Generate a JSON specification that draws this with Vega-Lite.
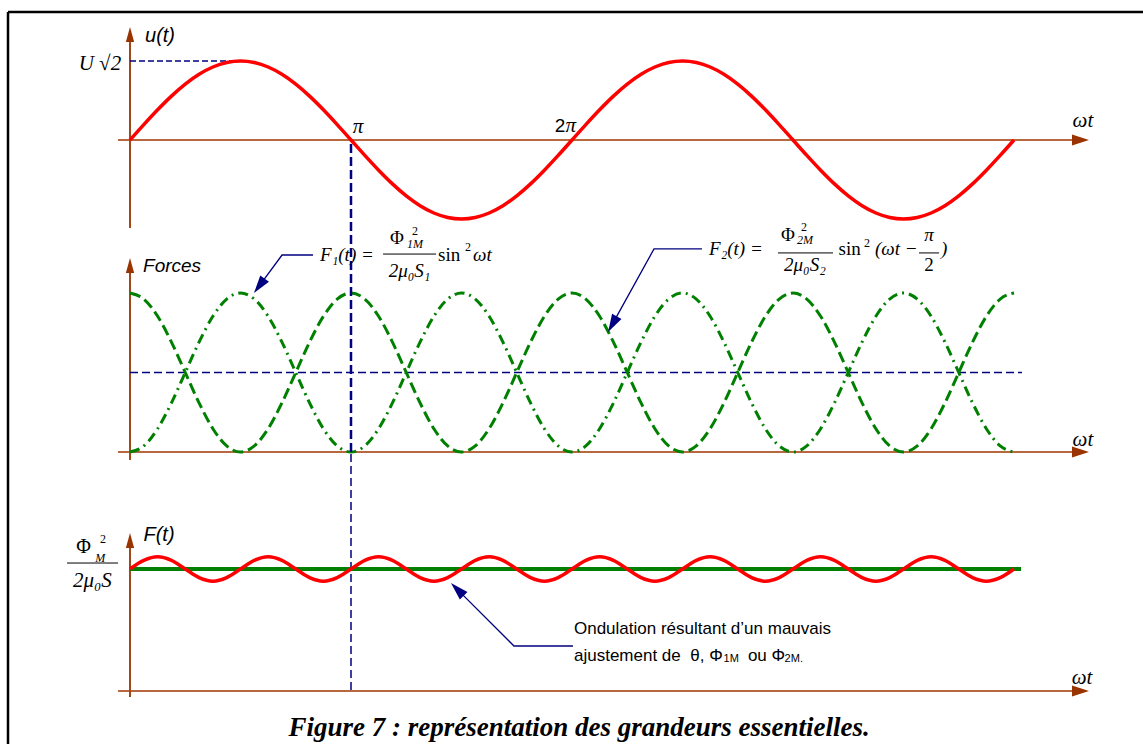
{
  "$schema": "https://vega.github.io/schema/vega-lite/v6.json",
  "width": 1143,
  "height": 744,
  "autosize": {"type": "none"},
  "padding": 0,
  "background": "white",
  "config": {"view": {"stroke": null}},
  "datasets": {
    "curves": [
      {"x":0,"u":0,"f1":0,"f2":1,"r":1},
      {"x":0.0625,"u":0.1951,"f1":0.0381,"f2":0.9619,"r":1.0707},
      {"x":0.125,"u":0.3827,"f1":0.1464,"f2":0.8536,"r":1.1},
      {"x":0.1875,"u":0.5556,"f1":0.3087,"f2":0.6913,"r":1.0707},
      {"x":0.25,"u":0.7071,"f1":0.5,"f2":0.5,"r":1},
      {"x":0.3125,"u":0.8315,"f1":0.6913,"f2":0.3087,"r":0.9293},
      {"x":0.375,"u":0.9239,"f1":0.8536,"f2":0.1464,"r":0.9},
      {"x":0.4375,"u":0.9808,"f1":0.9619,"f2":0.0381,"r":0.9293},
      {"x":0.5,"u":1,"f1":1,"f2":0,"r":1},
      {"x":0.5625,"u":0.9808,"f1":0.9619,"f2":0.0381,"r":1.0707},
      {"x":0.625,"u":0.9239,"f1":0.8536,"f2":0.1464,"r":1.1},
      {"x":0.6875,"u":0.8315,"f1":0.6913,"f2":0.3087,"r":1.0707},
      {"x":0.75,"u":0.7071,"f1":0.5,"f2":0.5,"r":1},
      {"x":0.8125,"u":0.5556,"f1":0.3087,"f2":0.6913,"r":0.9293},
      {"x":0.875,"u":0.3827,"f1":0.1464,"f2":0.8536,"r":0.9},
      {"x":0.9375,"u":0.1951,"f1":0.0381,"f2":0.9619,"r":0.9293},
      {"x":1,"u":0,"f1":0,"f2":1,"r":1},
      {"x":1.0625,"u":-0.1951,"f1":0.0381,"f2":0.9619,"r":1.0707},
      {"x":1.125,"u":-0.3827,"f1":0.1464,"f2":0.8536,"r":1.1},
      {"x":1.1875,"u":-0.5556,"f1":0.3087,"f2":0.6913,"r":1.0707},
      {"x":1.25,"u":-0.7071,"f1":0.5,"f2":0.5,"r":1},
      {"x":1.3125,"u":-0.8315,"f1":0.6913,"f2":0.3087,"r":0.9293},
      {"x":1.375,"u":-0.9239,"f1":0.8536,"f2":0.1464,"r":0.9},
      {"x":1.4375,"u":-0.9808,"f1":0.9619,"f2":0.0381,"r":0.9293},
      {"x":1.5,"u":-1,"f1":1,"f2":0,"r":1},
      {"x":1.5625,"u":-0.9808,"f1":0.9619,"f2":0.0381,"r":1.0707},
      {"x":1.625,"u":-0.9239,"f1":0.8536,"f2":0.1464,"r":1.1},
      {"x":1.6875,"u":-0.8315,"f1":0.6913,"f2":0.3087,"r":1.0707},
      {"x":1.75,"u":-0.7071,"f1":0.5,"f2":0.5,"r":1},
      {"x":1.8125,"u":-0.5556,"f1":0.3087,"f2":0.6913,"r":0.9293},
      {"x":1.875,"u":-0.3827,"f1":0.1464,"f2":0.8536,"r":0.9},
      {"x":1.9375,"u":-0.1951,"f1":0.0381,"f2":0.9619,"r":0.9293},
      {"x":2,"u":0,"f1":0,"f2":1,"r":1},
      {"x":2.0625,"u":0.1951,"f1":0.0381,"f2":0.9619,"r":1.0707},
      {"x":2.125,"u":0.3827,"f1":0.1464,"f2":0.8536,"r":1.1},
      {"x":2.1875,"u":0.5556,"f1":0.3087,"f2":0.6913,"r":1.0707},
      {"x":2.25,"u":0.7071,"f1":0.5,"f2":0.5,"r":1},
      {"x":2.3125,"u":0.8315,"f1":0.6913,"f2":0.3087,"r":0.9293},
      {"x":2.375,"u":0.9239,"f1":0.8536,"f2":0.1464,"r":0.9},
      {"x":2.4375,"u":0.9808,"f1":0.9619,"f2":0.0381,"r":0.9293},
      {"x":2.5,"u":1,"f1":1,"f2":0,"r":1},
      {"x":2.5625,"u":0.9808,"f1":0.9619,"f2":0.0381,"r":1.0707},
      {"x":2.625,"u":0.9239,"f1":0.8536,"f2":0.1464,"r":1.1},
      {"x":2.6875,"u":0.8315,"f1":0.6913,"f2":0.3087,"r":1.0707},
      {"x":2.75,"u":0.7071,"f1":0.5,"f2":0.5,"r":1},
      {"x":2.8125,"u":0.5556,"f1":0.3087,"f2":0.6913,"r":0.9293},
      {"x":2.875,"u":0.3827,"f1":0.1464,"f2":0.8536,"r":0.9},
      {"x":2.9375,"u":0.1951,"f1":0.0381,"f2":0.9619,"r":0.9293},
      {"x":3,"u":0,"f1":0,"f2":1,"r":1},
      {"x":3.0625,"u":-0.1951,"f1":0.0381,"f2":0.9619,"r":1.0707},
      {"x":3.125,"u":-0.3827,"f1":0.1464,"f2":0.8536,"r":1.1},
      {"x":3.1875,"u":-0.5556,"f1":0.3087,"f2":0.6913,"r":1.0707},
      {"x":3.25,"u":-0.7071,"f1":0.5,"f2":0.5,"r":1},
      {"x":3.3125,"u":-0.8315,"f1":0.6913,"f2":0.3087,"r":0.9293},
      {"x":3.375,"u":-0.9239,"f1":0.8536,"f2":0.1464,"r":0.9},
      {"x":3.4375,"u":-0.9808,"f1":0.9619,"f2":0.0381,"r":0.9293},
      {"x":3.5,"u":-1,"f1":1,"f2":0,"r":1},
      {"x":3.5625,"u":-0.9808,"f1":0.9619,"f2":0.0381,"r":1.0707},
      {"x":3.625,"u":-0.9239,"f1":0.8536,"f2":0.1464,"r":1.1},
      {"x":3.6875,"u":-0.8315,"f1":0.6913,"f2":0.3087,"r":1.0707},
      {"x":3.75,"u":-0.7071,"f1":0.5,"f2":0.5,"r":1},
      {"x":3.8125,"u":-0.5556,"f1":0.3087,"f2":0.6913,"r":0.9293},
      {"x":3.875,"u":-0.3827,"f1":0.1464,"f2":0.8536,"r":0.9},
      {"x":3.9375,"u":-0.1951,"f1":0.0381,"f2":0.9619,"r":0.9293},
      {"x":4,"u":0,"f1":0,"f2":1,"r":1}
    ]
  },
  "resolve": {"scale": {"y": "independent"}},
  "layer": [
    {
      "layer": [
        {
          "data": {"values": [{"x":-0.552,"x2":4.62,"y":1.62,"y2":1.62},{"x":-0.552,"x2":-0.552,"y":1.62,"y2":-7.7}]},
          "mark": {"type":"rule","color":"#000000","strokeWidth":2.5},
          "encoding": {
            "x": {"field":"x","type":"quantitative","scale":{"domain":[-0.58824,4.58371],"nice":false,"zero":false},"axis":null},
            "x2": {"field":"x2"},
            "y": {"field":"y","type":"quantitative","scale":{"domain":[-7.6456,1.7722],"nice":false,"zero":false},"axis":null},
            "y2": {"field":"y2"}
          }
        },
        {
          "data": {"values": [{"x":-0.0543,"x2":4.27,"y":0,"y2":0}]},
          "mark": {"type":"rule","color":"#B8683F","strokeWidth":2},
          "encoding": {
            "x": {"field":"x","type":"quantitative","scale":{"domain":[-0.58824,4.58371],"nice":false,"zero":false},"axis":null},
            "x2": {"field":"x2"},
            "y": {"field":"y","type":"quantitative","scale":{"domain":[-7.6456,1.7722],"nice":false,"zero":false},"axis":null},
            "y2": {"field":"y2"}
          }
        },
        {
          "data": {"values": [{"x":0,"x2":0,"y":-1.114,"y2":1.24}]},
          "mark": {"type":"rule","color":"#A0481A","strokeWidth":2},
          "encoding": {
            "x": {"field":"x","type":"quantitative","scale":{"domain":[-0.58824,4.58371],"nice":false,"zero":false},"axis":null},
            "x2": {"field":"x2"},
            "y": {"field":"y","type":"quantitative","scale":{"domain":[-7.6456,1.7722],"nice":false,"zero":false},"axis":null},
            "y2": {"field":"y2"}
          }
        },
        {
          "data": {"values": [{"x":0,"x2":0.5,"y":1,"y2":1}]},
          "mark": {"type":"rule","color":"#000080","strokeWidth":1.5,"strokeDash":[6,3]},
          "encoding": {
            "x": {"field":"x","type":"quantitative","scale":{"domain":[-0.58824,4.58371],"nice":false,"zero":false},"axis":null},
            "x2": {"field":"x2"},
            "y": {"field":"y","type":"quantitative","scale":{"domain":[-7.6456,1.7722],"nice":false,"zero":false},"axis":null},
            "y2": {"field":"y2"}
          }
        },
        {
          "data": {"name": "curves"},
          "mark": {"type":"line","color":"#FF0000","strokeWidth":3.5,"interpolate":"monotone"},
          "encoding": {
            "x": {"field":"x","type":"quantitative","scale":{"domain":[-0.58824,4.58371],"nice":false,"zero":false},"axis":null},
            "y": {"field":"u","type":"quantitative","scale":{"domain":[-7.6456,1.7722],"nice":false,"zero":false},"axis":null}
          }
        },
        {
          "data": {"values": [{"x":4.3009,"y":0}]},
          "mark": {"type":"point","shape":"M -1 -0.65 L 1 0 L -1 0.65 Z","size":289,"filled":true,"color":"#993300","opacity":1,"strokeWidth":0},
          "encoding": {
            "x": {"field":"x","type":"quantitative","scale":{"domain":[-0.58824,4.58371],"nice":false,"zero":false},"axis":null},
            "y": {"field":"y","type":"quantitative","scale":{"domain":[-7.6456,1.7722],"nice":false,"zero":false},"axis":null}
          }
        },
        {
          "data": {"values": [{"x":0,"y":1.335}]},
          "mark": {"type":"point","shape":"M -0.55 1 L 0 -1 L 0.55 1 Z","size":225,"filled":true,"color":"#993300","opacity":1,"strokeWidth":0},
          "encoding": {
            "x": {"field":"x","type":"quantitative","scale":{"domain":[-0.58824,4.58371],"nice":false,"zero":false},"axis":null},
            "y": {"field":"y","type":"quantitative","scale":{"domain":[-7.6456,1.7722],"nice":false,"zero":false},"axis":null}
          }
        },
        {
          "data": {"values": [{"x":0.068,"y":1.316,"t":"u(t)"}]},
          "mark": {"type":"text","font":"Liberation Sans","fontStyle":"italic","fontSize":20,"align":"left","baseline":"middle","color":"#000000"},
          "encoding": {
            "x": {"field":"x","type":"quantitative","scale":{"domain":[-0.58824,4.58371],"nice":false,"zero":false},"axis":null},
            "y": {"field":"y","type":"quantitative","scale":{"domain":[-7.6456,1.7722],"nice":false,"zero":false},"axis":null},
            "text": {"field":"t"}
          }
        },
        {
          "data": {"values": [{"x":-0.040,"y":0.962,"t":"U √2"}]},
          "mark": {"type":"text","font":"Liberation Serif","fontStyle":"italic","fontSize":21,"align":"right","baseline":"middle","color":"#000000"},
          "encoding": {
            "x": {"field":"x","type":"quantitative","scale":{"domain":[-0.58824,4.58371],"nice":false,"zero":false},"axis":null},
            "y": {"field":"y","type":"quantitative","scale":{"domain":[-7.6456,1.7722],"nice":false,"zero":false},"axis":null},
            "text": {"field":"t"}
          }
        },
        {
          "data": {"values": [{"x":1.032,"y":0.165,"t":"π"},{"x":1.994,"y":0.177,"t":"π"},{"x":4.312,"y":0.241,"t":"ωt"}]},
          "mark": {"type":"text","font":"Liberation Serif","fontStyle":"italic","fontSize":21,"align":"center","baseline":"middle","color":"#000000"},
          "encoding": {
            "x": {"field":"x","type":"quantitative","scale":{"domain":[-0.58824,4.58371],"nice":false,"zero":false},"axis":null},
            "y": {"field":"y","type":"quantitative","scale":{"domain":[-7.6456,1.7722],"nice":false,"zero":false},"axis":null},
            "text": {"field":"t"}
          }
        },
        {
          "data": {"values": [{"x":1.946,"y":0.177,"t":"2"}]},
          "mark": {"type":"text","font":"Liberation Sans","fontSize":19,"align":"center","baseline":"middle","color":"#000000"},
          "encoding": {
            "x": {"field":"x","type":"quantitative","scale":{"domain":[-0.58824,4.58371],"nice":false,"zero":false},"axis":null},
            "y": {"field":"y","type":"quantitative","scale":{"domain":[-7.6456,1.7722],"nice":false,"zero":false},"axis":null},
            "text": {"field":"t"}
          }
        }
      ]
    },
    {
      "layer": [
        {
          "data": {"values": [{"x":-0.0543,"x2":4.27,"y":0,"y2":0}]},
          "mark": {"type":"rule","color":"#B8683F","strokeWidth":2},
          "encoding": {
            "x": {"field":"x","type":"quantitative","scale":{"domain":[-0.58824,4.58371],"nice":false,"zero":false},"axis":null},
            "x2": {"field":"x2"},
            "y": {"field":"y","type":"quantitative","scale":{"domain":[-1.8365,2.8428],"nice":false,"zero":false},"axis":null},
            "y2": {"field":"y2"}
          }
        },
        {
          "data": {"values": [{"x":0,"x2":0,"y":-0.05,"y2":1.126}]},
          "mark": {"type":"rule","color":"#A0481A","strokeWidth":2},
          "encoding": {
            "x": {"field":"x","type":"quantitative","scale":{"domain":[-0.58824,4.58371],"nice":false,"zero":false},"axis":null},
            "x2": {"field":"x2"},
            "y": {"field":"y","type":"quantitative","scale":{"domain":[-1.8365,2.8428],"nice":false,"zero":false},"axis":null},
            "y2": {"field":"y2"}
          }
        },
        {
          "data": {"values": [{"x":0,"x2":4.036,"y":0.5,"y2":0.5}]},
          "mark": {"type":"rule","color":"#000080","strokeWidth":1.5,"strokeDash":[8,4]},
          "encoding": {
            "x": {"field":"x","type":"quantitative","scale":{"domain":[-0.58824,4.58371],"nice":false,"zero":false},"axis":null},
            "x2": {"field":"x2"},
            "y": {"field":"y","type":"quantitative","scale":{"domain":[-1.8365,2.8428],"nice":false,"zero":false},"axis":null},
            "y2": {"field":"y2"}
          }
        },
        {
          "data": {"name": "curves"},
          "mark": {"type":"line","color":"#008000","strokeWidth":3,"interpolate":"monotone","strokeDash":[10,5,2,5]},
          "encoding": {
            "x": {"field":"x","type":"quantitative","scale":{"domain":[-0.58824,4.58371],"nice":false,"zero":false},"axis":null},
            "y": {"field":"f1","type":"quantitative","scale":{"domain":[-1.8365,2.8428],"nice":false,"zero":false},"axis":null}
          }
        },
        {
          "data": {"name": "curves"},
          "mark": {"type":"line","color":"#008000","strokeWidth":3,"interpolate":"monotone","strokeDash":[11,5]},
          "encoding": {
            "x": {"field":"x","type":"quantitative","scale":{"domain":[-0.58824,4.58371],"nice":false,"zero":false},"axis":null},
            "y": {"field":"f2","type":"quantitative","scale":{"domain":[-1.8365,2.8428],"nice":false,"zero":false},"axis":null}
          }
        },
        {
          "data": {"values": [{"x":1,"x2":1,"y":0,"y2":1.962}]},
          "mark": {"type":"rule","color":"#000080","strokeWidth":2.5,"strokeDash":[9,4]},
          "encoding": {
            "x": {"field":"x","type":"quantitative","scale":{"domain":[-0.58824,4.58371],"nice":false,"zero":false},"axis":null},
            "x2": {"field":"x2"},
            "y": {"field":"y","type":"quantitative","scale":{"domain":[-1.8365,2.8428],"nice":false,"zero":false},"axis":null},
            "y2": {"field":"y2"}
          }
        },
        {
          "data": {"values": [{"x":4.3009,"y":0}]},
          "mark": {"type":"point","shape":"M -1 -0.65 L 1 0 L -1 0.65 Z","size":289,"filled":true,"color":"#993300","opacity":1,"strokeWidth":0},
          "encoding": {
            "x": {"field":"x","type":"quantitative","scale":{"domain":[-0.58824,4.58371],"nice":false,"zero":false},"axis":null},
            "y": {"field":"y","type":"quantitative","scale":{"domain":[-1.8365,2.8428],"nice":false,"zero":false},"axis":null}
          }
        },
        {
          "data": {"values": [{"x":0,"y":1.173}]},
          "mark": {"type":"point","shape":"M -0.55 1 L 0 -1 L 0.55 1 Z","size":225,"filled":true,"color":"#993300","opacity":1,"strokeWidth":0},
          "encoding": {
            "x": {"field":"x","type":"quantitative","scale":{"domain":[-0.58824,4.58371],"nice":false,"zero":false},"axis":null},
            "y": {"field":"y","type":"quantitative","scale":{"domain":[-1.8365,2.8428],"nice":false,"zero":false},"axis":null}
          }
        },
        {
          "data": {"values": [{"id":"a","o":0,"x":0.828,"y":1.239},{"id":"a","o":1,"x":0.688,"y":1.239},{"id":"a","o":2,"x":0.585,"y":1.045},{"id":"b","o":0,"x":2.588,"y":1.277},{"id":"b","o":1,"x":2.371,"y":1.277},{"id":"b","o":2,"x":2.183,"y":0.804}]},
          "mark": {"type":"line","color":"#000080","strokeWidth":1.3},
          "encoding": {
            "x": {"field":"x","type":"quantitative","scale":{"domain":[-0.58824,4.58371],"nice":false,"zero":false},"axis":null},
            "y": {"field":"y","type":"quantitative","scale":{"domain":[-1.8365,2.8428],"nice":false,"zero":false},"axis":null},
            "detail": {"field":"id","type":"nominal"},
            "order": {"field":"o","type":"quantitative"}
          }
        },
        {
          "data": {"values": [{"x":0.585,"y":1.045,"a":216.4},{"x":2.183,"y":0.804,"a":209}]},
          "mark": {"type":"point","shape":"M 0 -1 L 0.6 1 L -0.6 1 Z","size":324,"filled":true,"color":"#000080","opacity":1,"strokeWidth":0},
          "encoding": {
            "x": {"field":"x","type":"quantitative","scale":{"domain":[-0.58824,4.58371],"nice":false,"zero":false},"axis":null},
            "y": {"field":"y","type":"quantitative","scale":{"domain":[-1.8365,2.8428],"nice":false,"zero":false},"axis":null},
            "angle": {"field":"a","type":"quantitative","scale":null}
          }
        },
        {
          "data": {"values": [{"x":1.145,"x2":1.385,"y":1.245,"y2":1.245},{"x":2.932,"x2":3.181,"y":1.252,"y2":1.252},{"x":3.570,"x2":3.661,"y":1.252,"y2":1.252}]},
          "mark": {"type":"rule","color":"#000000","strokeWidth":1},
          "encoding": {
            "x": {"field":"x","type":"quantitative","scale":{"domain":[-0.58824,4.58371],"nice":false,"zero":false},"axis":null},
            "x2": {"field":"x2"},
            "y": {"field":"y","type":"quantitative","scale":{"domain":[-1.8365,2.8428],"nice":false,"zero":false},"axis":null},
            "y2": {"field":"y2"}
          }
        },
        {
          "data": {"values": [{"x":0.059,"y":1.170,"t":"Forces"}]},
          "mark": {"type":"text","font":"Liberation Sans","fontStyle":"italic","fontSize":19,"align":"left","baseline":"middle","color":"#000000"},
          "encoding": {
            "x": {"field":"x","type":"quantitative","scale":{"domain":[-0.58824,4.58371],"nice":false,"zero":false},"axis":null},
            "y": {"field":"y","type":"quantitative","scale":{"domain":[-1.8365,2.8428],"nice":false,"zero":false},"axis":null},
            "text": {"field":"t"}
          }
        },
        {
          "data": {"values": [{"x":4.312,"y":0.075,"t":"ωt"}]},
          "mark": {"type":"text","font":"Liberation Serif","fontStyle":"italic","fontSize":21,"align":"center","baseline":"middle","color":"#000000"},
          "encoding": {
            "x": {"field":"x","type":"quantitative","scale":{"domain":[-0.58824,4.58371],"nice":false,"zero":false},"axis":null},
            "y": {"field":"y","type":"quantitative","scale":{"domain":[-1.8365,2.8428],"nice":false,"zero":false},"axis":null},
            "text": {"field":"t"}
          }
        },
        {
          "data": {"values": [{"x":0.860,"y":1.239,"t":"F₁(t) ="},{"x":1.552,"y":1.239,"t":"ωt"},{"x":2.620,"y":1.277,"t":"F₂(t) ="},{"x":3.371,"y":1.277,"t":"(ωt −"},{"x":3.670,"y":1.277,"t":")"}]},
          "mark": {"type":"text","font":"Liberation Serif","fontStyle":"italic","fontSize":19,"align":"left","baseline":"middle","color":"#000000"},
          "encoding": {
            "x": {"field":"x","type":"quantitative","scale":{"domain":[-0.58824,4.58371],"nice":false,"zero":false},"axis":null},
            "y": {"field":"y","type":"quantitative","scale":{"domain":[-1.8365,2.8428],"nice":false,"zero":false},"axis":null},
            "text": {"field":"t"}
          }
        },
        {
          "data": {"values": [{"x":1.394,"y":1.239,"t":"sin"},{"x":3.206,"y":1.277,"t":"sin"}]},
          "mark": {"type":"text","font":"Liberation Serif","fontSize":19,"align":"left","baseline":"middle","color":"#000000"},
          "encoding": {
            "x": {"field":"x","type":"quantitative","scale":{"domain":[-0.58824,4.58371],"nice":false,"zero":false},"axis":null},
            "y": {"field":"y","type":"quantitative","scale":{"domain":[-1.8365,2.8428],"nice":false,"zero":false},"axis":null},
            "text": {"field":"t"}
          }
        },
        {
          "data": {"values": [{"x":1.208,"y":1.346,"t":"Φ"},{"x":2.977,"y":1.365,"t":"Φ"},{"x":3.615,"y":1.176,"t":"2"}]},
          "mark": {"type":"text","font":"Liberation Serif","fontSize":19,"align":"center","baseline":"middle","color":"#000000"},
          "encoding": {
            "x": {"field":"x","type":"quantitative","scale":{"domain":[-0.58824,4.58371],"nice":false,"zero":false},"axis":null},
            "y": {"field":"y","type":"quantitative","scale":{"domain":[-1.8365,2.8428],"nice":false,"zero":false},"axis":null},
            "text": {"field":"t"}
          }
        },
        {
          "data": {"values": [{"x":1.265,"y":1.138,"t":"2μ₀S₁"},{"x":3.054,"y":1.176,"t":"2μ₀S₂"},{"x":3.615,"y":1.365,"t":"π"}]},
          "mark": {"type":"text","font":"Liberation Serif","fontStyle":"italic","fontSize":19,"align":"center","baseline":"middle","color":"#000000"},
          "encoding": {
            "x": {"field":"x","type":"quantitative","scale":{"domain":[-0.58824,4.58371],"nice":false,"zero":false},"axis":null},
            "y": {"field":"y","type":"quantitative","scale":{"domain":[-1.8365,2.8428],"nice":false,"zero":false},"axis":null},
            "text": {"field":"t"}
          }
        },
        {
          "data": {"values": [{"x":1.290,"y":1.390,"t":"2"},{"x":1.529,"y":1.289,"t":"2"},{"x":3.050,"y":1.415,"t":"2"},{"x":3.335,"y":1.314,"t":"2"}]},
          "mark": {"type":"text","font":"Liberation Serif","fontSize":12,"align":"center","baseline":"middle","color":"#000000"},
          "encoding": {
            "x": {"field":"x","type":"quantitative","scale":{"domain":[-0.58824,4.58371],"nice":false,"zero":false},"axis":null},
            "y": {"field":"y","type":"quantitative","scale":{"domain":[-1.8365,2.8428],"nice":false,"zero":false},"axis":null},
            "text": {"field":"t"}
          }
        },
        {
          "data": {"values": [{"x":1.253,"y":1.308,"t":"1M"},{"x":3.018,"y":1.333,"t":"2M"}]},
          "mark": {"type":"text","font":"Liberation Serif","fontStyle":"italic","fontSize":12,"align":"left","baseline":"middle","color":"#000000"},
          "encoding": {
            "x": {"field":"x","type":"quantitative","scale":{"domain":[-0.58824,4.58371],"nice":false,"zero":false},"axis":null},
            "y": {"field":"y","type":"quantitative","scale":{"domain":[-1.8365,2.8428],"nice":false,"zero":false},"axis":null},
            "text": {"field":"t"}
          }
        }
      ]
    },
    {
      "layer": [
        {
          "data": {"values": [{"x":-0.0543,"x2":4.27,"y":0,"y2":0}]},
          "mark": {"type":"rule","color":"#B8683F","strokeWidth":2},
          "encoding": {
            "x": {"field":"x","type":"quantitative","scale":{"domain":[-0.58824,4.58371],"nice":false,"zero":false},"axis":null},
            "x2": {"field":"x2"},
            "y": {"field":"y","type":"quantitative","scale":{"domain":[-0.4344,5.6639],"nice":false,"zero":false},"axis":null},
            "y2": {"field":"y2"}
          }
        },
        {
          "data": {"values": [{"x":0,"x2":0,"y":-0.049,"y2":1.172}]},
          "mark": {"type":"rule","color":"#A0481A","strokeWidth":2},
          "encoding": {
            "x": {"field":"x","type":"quantitative","scale":{"domain":[-0.58824,4.58371],"nice":false,"zero":false},"axis":null},
            "x2": {"field":"x2"},
            "y": {"field":"y","type":"quantitative","scale":{"domain":[-0.4344,5.6639],"nice":false,"zero":false},"axis":null},
            "y2": {"field":"y2"}
          }
        },
        {
          "data": {"values": [{"x":1,"x2":1,"y":0.008,"y2":1.959}]},
          "mark": {"type":"rule","color":"#000080","strokeWidth":1.5,"strokeDash":[8,4]},
          "encoding": {
            "x": {"field":"x","type":"quantitative","scale":{"domain":[-0.58824,4.58371],"nice":false,"zero":false},"axis":null},
            "x2": {"field":"x2"},
            "y": {"field":"y","type":"quantitative","scale":{"domain":[-0.4344,5.6639],"nice":false,"zero":false},"axis":null},
            "y2": {"field":"y2"}
          }
        },
        {
          "data": {"values": [{"x":0,"x2":4.032,"y":1,"y2":1}]},
          "mark": {"type":"rule","color":"#008000","strokeWidth":4},
          "encoding": {
            "x": {"field":"x","type":"quantitative","scale":{"domain":[-0.58824,4.58371],"nice":false,"zero":false},"axis":null},
            "x2": {"field":"x2"},
            "y": {"field":"y","type":"quantitative","scale":{"domain":[-0.4344,5.6639],"nice":false,"zero":false},"axis":null},
            "y2": {"field":"y2"}
          }
        },
        {
          "data": {"name": "curves"},
          "mark": {"type":"line","color":"#FF0000","strokeWidth":3.5,"interpolate":"monotone"},
          "encoding": {
            "x": {"field":"x","type":"quantitative","scale":{"domain":[-0.58824,4.58371],"nice":false,"zero":false},"axis":null},
            "y": {"field":"r","type":"quantitative","scale":{"domain":[-0.4344,5.6639],"nice":false,"zero":false},"axis":null}
          }
        },
        {
          "data": {"values": [{"x":4.3009,"y":0}]},
          "mark": {"type":"point","shape":"M -1 -0.65 L 1 0 L -1 0.65 Z","size":289,"filled":true,"color":"#993300","opacity":1,"strokeWidth":0},
          "encoding": {
            "x": {"field":"x","type":"quantitative","scale":{"domain":[-0.58824,4.58371],"nice":false,"zero":false},"axis":null},
            "y": {"field":"y","type":"quantitative","scale":{"domain":[-0.4344,5.6639],"nice":false,"zero":false},"axis":null}
          }
        },
        {
          "data": {"values": [{"x":0,"y":1.234}]},
          "mark": {"type":"point","shape":"M -0.55 1 L 0 -1 L 0.55 1 Z","size":225,"filled":true,"color":"#993300","opacity":1,"strokeWidth":0},
          "encoding": {
            "x": {"field":"x","type":"quantitative","scale":{"domain":[-0.58824,4.58371],"nice":false,"zero":false},"axis":null},
            "y": {"field":"y","type":"quantitative","scale":{"domain":[-0.4344,5.6639],"nice":false,"zero":false},"axis":null}
          }
        },
        {
          "data": {"values": [{"id":"c","o":0,"x":2.0045,"y":0.369},{"id":"c","o":1,"x":1.7376,"y":0.369},{"id":"c","o":2,"x":1.481,"y":0.833}]},
          "mark": {"type":"line","color":"#000080","strokeWidth":1.3},
          "encoding": {
            "x": {"field":"x","type":"quantitative","scale":{"domain":[-0.58824,4.58371],"nice":false,"zero":false},"axis":null},
            "y": {"field":"y","type":"quantitative","scale":{"domain":[-0.4344,5.6639],"nice":false,"zero":false},"axis":null},
            "detail": {"field":"id","type":"nominal"},
            "order": {"field":"o","type":"quantitative"}
          }
        },
        {
          "data": {"values": [{"x":1.481,"y":0.833,"a":315}]},
          "mark": {"type":"point","shape":"M 0 -1 L 0.6 1 L -0.6 1 Z","size":324,"filled":true,"color":"#000080","opacity":1,"strokeWidth":0},
          "encoding": {
            "x": {"field":"x","type":"quantitative","scale":{"domain":[-0.58824,4.58371],"nice":false,"zero":false},"axis":null},
            "y": {"field":"y","type":"quantitative","scale":{"domain":[-0.4344,5.6639],"nice":false,"zero":false},"axis":null},
            "angle": {"field":"a","type":"quantitative","scale":null}
          }
        },
        {
          "data": {"values": [{"x":-0.285,"x2":-0.054,"y":1.049,"y2":1.049}]},
          "mark": {"type":"rule","color":"#000000","strokeWidth":1},
          "encoding": {
            "x": {"field":"x","type":"quantitative","scale":{"domain":[-0.58824,4.58371],"nice":false,"zero":false},"axis":null},
            "x2": {"field":"x2"},
            "y": {"field":"y","type":"quantitative","scale":{"domain":[-0.4344,5.6639],"nice":false,"zero":false},"axis":null},
            "y2": {"field":"y2"}
          }
        },
        {
          "data": {"values": [{"x":0.061,"y":1.279,"t":"F(t)"}]},
          "mark": {"type":"text","font":"Liberation Sans","fontStyle":"italic","fontSize":20,"align":"left","baseline":"middle","color":"#000000"},
          "encoding": {
            "x": {"field":"x","type":"quantitative","scale":{"domain":[-0.58824,4.58371],"nice":false,"zero":false},"axis":null},
            "y": {"field":"y","type":"quantitative","scale":{"domain":[-0.4344,5.6639],"nice":false,"zero":false},"axis":null},
            "text": {"field":"t"}
          }
        },
        {
          "data": {"values": [{"x":4.308,"y":0.107,"t":"ωt"},{"x":-0.170,"y":0.902,"t":"2μ₀S"}]},
          "mark": {"type":"text","font":"Liberation Serif","fontStyle":"italic","fontSize":21,"align":"center","baseline":"middle","color":"#000000"},
          "encoding": {
            "x": {"field":"x","type":"quantitative","scale":{"domain":[-0.58824,4.58371],"nice":false,"zero":false},"axis":null},
            "y": {"field":"y","type":"quantitative","scale":{"domain":[-0.4344,5.6639],"nice":false,"zero":false},"axis":null},
            "text": {"field":"t"}
          }
        },
        {
          "data": {"values": [{"x":-0.210,"y":1.180,"t":"Φ"}]},
          "mark": {"type":"text","font":"Liberation Serif","fontSize":20,"align":"center","baseline":"middle","color":"#000000"},
          "encoding": {
            "x": {"field":"x","type":"quantitative","scale":{"domain":[-0.58824,4.58371],"nice":false,"zero":false},"axis":null},
            "y": {"field":"y","type":"quantitative","scale":{"domain":[-0.4344,5.6639],"nice":false,"zero":false},"axis":null},
            "text": {"field":"t"}
          }
        },
        {
          "data": {"values": [{"x":-0.122,"y":1.246,"t":"2"}]},
          "mark": {"type":"text","font":"Liberation Serif","fontSize":12,"align":"center","baseline":"middle","color":"#000000"},
          "encoding": {
            "x": {"field":"x","type":"quantitative","scale":{"domain":[-0.58824,4.58371],"nice":false,"zero":false},"axis":null},
            "y": {"field":"y","type":"quantitative","scale":{"domain":[-0.4344,5.6639],"nice":false,"zero":false},"axis":null},
            "text": {"field":"t"}
          }
        },
        {
          "data": {"values": [{"x":-0.135,"y":1.094,"t":"M"}]},
          "mark": {"type":"text","font":"Liberation Serif","fontStyle":"italic","fontSize":12,"align":"center","baseline":"middle","color":"#000000"},
          "encoding": {
            "x": {"field":"x","type":"quantitative","scale":{"domain":[-0.58824,4.58371],"nice":false,"zero":false},"axis":null},
            "y": {"field":"y","type":"quantitative","scale":{"domain":[-0.4344,5.6639],"nice":false,"zero":false},"axis":null},
            "text": {"field":"t"}
          }
        },
        {
          "data": {"values": [{"x":2.009,"y":0.508,"t":"Ondulation résultant d’un mauvais"},{"x":2.009,"y":0.287,"t":"ajustement de\u00a0 θ, Φ"},{"x":2.796,"y":0.287,"t":"ou Φ"}]},
          "mark": {"type":"text","font":"Liberation Sans","fontSize":17,"align":"left","baseline":"middle","color":"#000000"},
          "encoding": {
            "x": {"field":"x","type":"quantitative","scale":{"domain":[-0.58824,4.58371],"nice":false,"zero":false},"axis":null},
            "y": {"field":"y","type":"quantitative","scale":{"domain":[-0.4344,5.6639],"nice":false,"zero":false},"axis":null},
            "text": {"field":"t"}
          }
        },
        {
          "data": {"values": [{"x":2.686,"y":0.262,"t":"1M"},{"x":2.962,"y":0.262,"t":"2M."}]},
          "mark": {"type":"text","font":"Liberation Sans","fontSize":11,"align":"left","baseline":"middle","color":"#000000"},
          "encoding": {
            "x": {"field":"x","type":"quantitative","scale":{"domain":[-0.58824,4.58371],"nice":false,"zero":false},"axis":null},
            "y": {"field":"y","type":"quantitative","scale":{"domain":[-0.4344,5.6639],"nice":false,"zero":false},"axis":null},
            "text": {"field":"t"}
          }
        },
        {
          "data": {"values": [{"x":2.032,"y":-0.303,"t":"Figure 7 : représentation des grandeurs essentielles."}]},
          "mark": {"type":"text","font":"Liberation Serif","fontStyle":"italic","fontWeight":"bold","fontSize":27,"align":"center","baseline":"middle","color":"#000000"},
          "encoding": {
            "x": {"field":"x","type":"quantitative","scale":{"domain":[-0.58824,4.58371],"nice":false,"zero":false},"axis":null},
            "y": {"field":"y","type":"quantitative","scale":{"domain":[-0.4344,5.6639],"nice":false,"zero":false},"axis":null},
            "text": {"field":"t"}
          }
        }
      ]
    }
  ]
}
